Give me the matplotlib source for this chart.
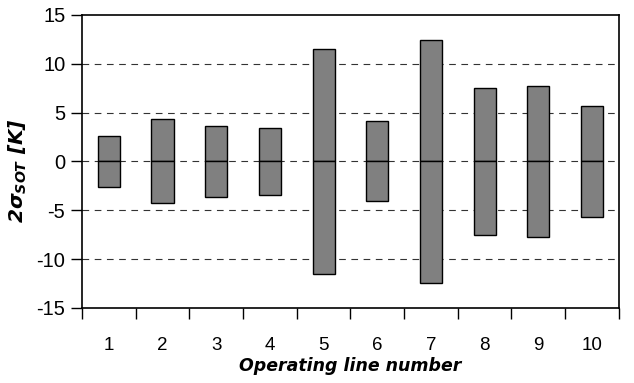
import numpy as np
import matplotlib
matplotlib.use("Agg")
import matplotlib.pyplot as plt

# operating lines and their 2-sigma spread in K
lines = [1, 2, 3, 4, 5, 6, 7, 8, 9, 10]
two_sigma = [2.65, 4.3, 3.6, 3.45, 11.5, 4.1, 12.4, 7.55, 7.7, 5.7]

plt.rcParams['mathtext.fontset'] = 'custom'
plt.rcParams['mathtext.rm'] = 'DejaVu Sans:bold:italic'
plt.rcParams['mathtext.it'] = 'DejaVu Sans:bold:italic'
plt.rcParams['axes.unicode_minus'] = False

fig = plt.figure(figsize=(6.34, 3.83), dpi=100)
ax = fig.add_axes([0.1293, 0.196, 0.8467, 0.765])

x = np.arange(len(lines))
vals = np.array(two_sigma)

for y in [-10, -5, 0, 5, 10]:
    ax.axhline(y, color='#333333', linewidth=0.8, dashes=(6, 5), zorder=1)

# upper and lower halves, so a line shows at zero inside each bar
ax.bar(x, vals, width=0.41, color='#808080', edgecolor='black', linewidth=1, zorder=2)
ax.bar(x, -vals, width=0.41, color='#808080', edgecolor='black', linewidth=1, zorder=2)

ax.set_xlim(-0.5, len(lines) - 0.5)
ax.set_ylim(-15, 15)
ax.set_yticks([-15, -10, -5, 0, 5, 10, 15])
ax.set_xticks(x)
ax.set_xticklabels([str(v) for v in lines], fontfamily='Liberation Sans', fontsize=13.5)
ax.set_xticks(np.arange(len(lines) + 1) - 0.5, minor=True)
ax.tick_params(axis='x', which='major', length=0, pad=21)
ax.tick_params(axis='x', which='minor', length=8, width=1, direction='out')
ax.tick_params(axis='y', length=8, width=1, direction='out', pad=4)
for lab in ax.get_yticklabels():
    lab.set_fontfamily('Liberation Sans')
    lab.set_fontsize(14.5)

for s in ax.spines.values():
    s.set_linewidth(1.2)

ax.set_xlabel('Operating line number', fontsize=12.5, fontweight='bold', fontstyle='italic', labelpad=2)
ax.set_ylabel(r'2σ$_{\mathrm{SOT}}$ [K]', fontsize=14.5, fontweight='bold', fontstyle='italic')
ax.yaxis.set_label_coords(-0.098, 0.47)

plt.savefig('out.png', dpi=100)
